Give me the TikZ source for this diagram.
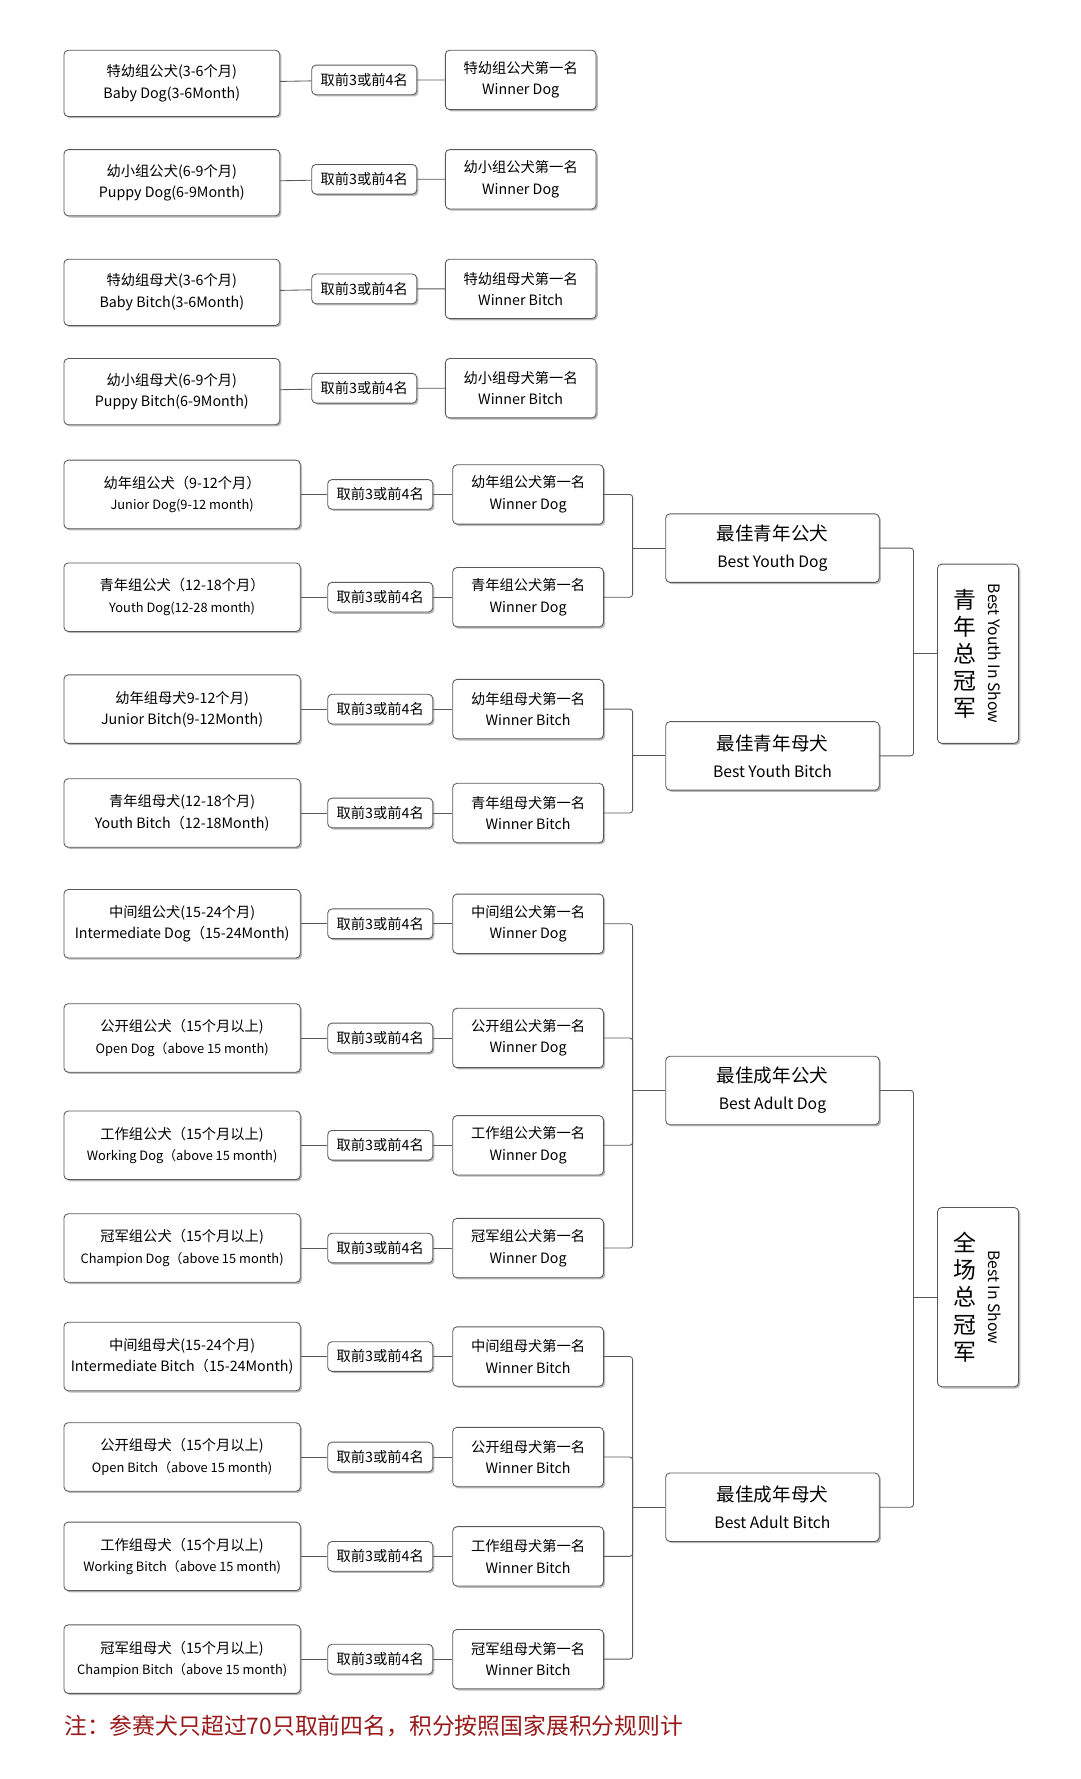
\documentclass[tikz,border=0pt]{standalone}
\usepackage{fontspec}
\setmainfont{Noto Sans CJK SC}
\usetikzlibrary{shadows,calc}
\newdimen\ux \ux=0.8pt
\tikzset{%
	every box/.style={
		draw=gray!70!black, rounded corners=3pt, fill=white, align=center,
		line width=0.6pt, inner sep=1pt,
		drop shadow={shadow xshift=1.2pt, shadow yshift=-1.2pt, fill=gray!55, opacity=1},
		font=\fontsize{10}{15}\selectfont
	},
	grp/.style={every box, minimum width=189\ux, minimum height=58\ux},
	grpwide/.style={every box, minimum width=207\ux, minimum height=60\ux},
	pick/.style={every box, minimum width=92\ux, minimum height=26\ux, font=\fontsize{10}{12}\selectfont},
	win/.style={every box, minimum width=132\ux, minimum height=52\ux},
	best/.style={every box, minimum width=187\ux, minimum height=60\ux, font=\fontsize{13}{19}\selectfont},
	champ/.style={every box, minimum width=71\ux, minimum height=157\ux},
	link/.style={draw=gray!70!black, line width=0.6pt, rounded corners=2pt},
}
\begin{document}
\begin{tikzpicture}[x=0.8pt, y=-0.8pt]
\useasboundingbox (0,0) rectangle (946,1558);

\foreach \y/\zh/\en/\wz/\we [count=\i] in {
	73/{特幼组公犬(3-6个月)}/{Baby Dog(3-6Month)}/{特幼组公犬第一名}/{Winner Dog},
	160/{幼小组公犬(6-9个月)}/{Puppy Dog(6-9Month)}/{幼小组公犬第一名}/{Winner Dog},
	256/{特幼组母犬(3-6个月)}/{Baby Bitch(3-6Month)}/{特幼组母犬第一名}/{Winner Bitch},
	343/{幼小组母犬(6-9个月)}/{Puppy Bitch(6-9Month)}/{幼小组母犬第一名}/{Winner Bitch}}
{
	\node [grp] (grp-\i) at (150.5,\y) {\zh\\\en};
	\node [pick] (pick-\i) at (319,\y-3) {取前3或前4名};
	\node [win] (win-\i) at (456,\y-3) {\wz\\\we};
	\draw [link] (grp-\i) -- (pick-\i) -- (win-\i);
}

\foreach \y/\zh/\en/\wz/\we [count=\i from 5] in {
	433/{幼年组公犬（9-12个月）}/{\small Junior Dog(9-12 month)}/{幼年组公犬第一名}/{Winner Dog},
	523/{青年组公犬（12-18个月）}/{\small Youth Dog(12-28 month)}/{青年组公犬第一名}/{Winner Dog},
	621/{幼年组母犬9-12个月)}/{Junior Bitch(9-12Month)}/{幼年组母犬第一名}/{Winner Bitch},
	712/{青年组母犬(12-18个月)}/{Youth Bitch（12-18Month)}/{青年组母犬第一名}/{Winner Bitch},
	809/{中间组公犬(15-24个月)}/{Intermediate Dog（15-24Month)}/{中间组公犬第一名}/{Winner Dog},
	909/{公开组公犬（15个月以上)}/{\small Open Dog（above 15 month)}/{公开组公犬第一名}/{Winner Dog},
	1003/{工作组公犬（15个月以上)}/{\small Working Dog（above 15 month)}/{工作组公犬第一名}/{Winner Dog},
	1093/{冠军组公犬（15个月以上)}/{\small Champion Dog（above 15 month)}/{冠军组公犬第一名}/{Winner Dog},
	1188/{中间组母犬(15-24个月)}/{Intermediate Bitch（15-24Month)}/{中间组母犬第一名}/{Winner Bitch},
	1276/{公开组母犬（15个月以上)}/{\small Open Bitch（above 15 month)}/{公开组母犬第一名}/{Winner Bitch},
	1363/{工作组母犬（15个月以上)}/{\small Working Bitch（above 15 month)}/{工作组母犬第一名}/{Winner Bitch},
	1453/{冠军组母犬（15个月以上)}/{\small Champion Bitch（above 15 month)}/{冠军组母犬第一名}/{Winner Bitch}}
{
	\node [grpwide] (grp-\i) at (159.5,\y) {\zh\\\en};
	\node [pick] (pick-\i) at (333,\y) {取前3或前4名};
	\node [win] (win-\i) at (462.5,\y) {\wz\\\we};
	\draw [link] (grp-\i) -- (pick-\i) -- (win-\i);
}

\node [best] (bestyd) at (676.5,480) {最佳青年公犬\\\fontsize{11}{15}\selectfont Best Youth Dog};
\node [best] (bestyb) at (676.5,662) {最佳青年母犬\\\fontsize{11}{15}\selectfont Best Youth Bitch};
\node [best] (bestad) at (676.5,955) {最佳成年公犬\\\fontsize{11}{15}\selectfont Best Adult Dog};
\node [best] (bestab) at (676.5,1320) {最佳成年母犬\\\fontsize{11}{15}\selectfont Best Adult Bitch};

\node [champ] (youth) at (856.5,572.5) {};
\node [font=\fontsize{16}{19}\selectfont, align=center, inner sep=0pt] (youth-zh) at (845,572.5) {青\\年\\总\\冠\\军};
\node [rotate=-90, font=\fontsize{11}{12}\selectfont, inner sep=0pt] (youth-en) at (871,572.5) {Best Youth In Show};
\node [champ] (show) at (856.5,1136) {};
\node [font=\fontsize{16}{19}\selectfont, align=center, inner sep=0pt] (show-zh) at (845,1136) {全\\场\\总\\冠\\军};
\node [rotate=-90, font=\fontsize{11}{12}\selectfont, inner sep=0pt] (show-en) at (871,1136) {Best In Show};

% brackets
\coordinate (jyd) at (554,480);
\coordinate (jyb) at (554,662);
\coordinate (jad) at (554,955);
\coordinate (jab) at (554,1320);
\coordinate (jy) at (800,572.5);
\coordinate (js) at (800,1136);
\foreach \i in {5,6} \draw [link] (win-\i.east) -| (jyd);
\draw [link] (jyd) -- (bestyd.west);
\foreach \i in {7,8} \draw [link] (win-\i.east) -| (jyb);
\draw [link] (jyb) -- (bestyb.west);
\foreach \i in {9,...,12} \draw [link] (win-\i.east) -| (jad);
\draw [link] (jad) -- (bestad.west);
\foreach \i in {13,...,16} \draw [link] (win-\i.east) -| (jab);
\draw [link] (jab) -- (bestab.west);
\foreach \n in {bestyd,bestyb} \draw [link] (\n.east) -| (jy);
\draw [link] (jy) -- (youth.west);
\foreach \n in {bestad,bestab} \draw [link] (\n.east) -| (js);
\draw [link] (js) -- (show.west);

\node [anchor=west, text=red!55!black!90, font=\fontsize{16}{18}\selectfont, inner sep=0pt] (note) at (56,1512)
	{注：参赛犬只超过70只取前四名，积分按照国家展积分规则计};
\end{tikzpicture}
\end{document}
